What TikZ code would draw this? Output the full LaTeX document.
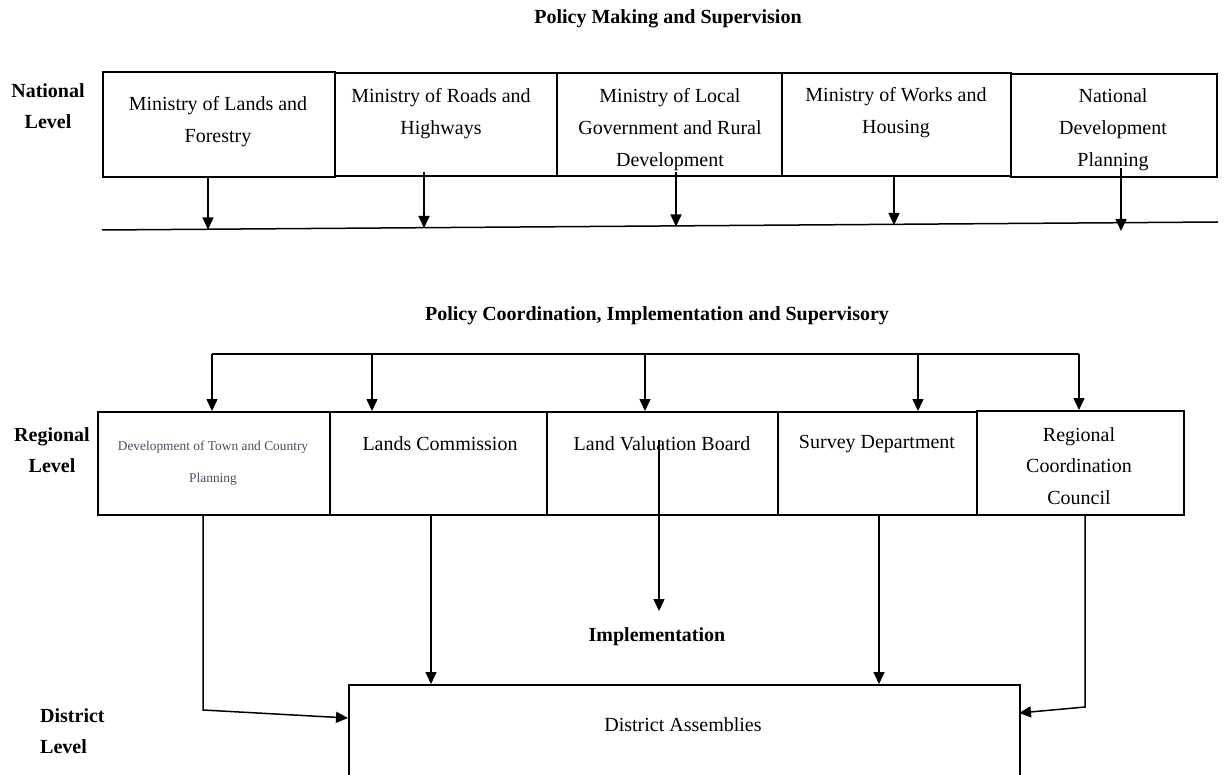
\documentclass[tikz,border=0pt]{standalone}
\usepackage{fontspec}
\setmainfont{Liberation Serif}
\usetikzlibrary{arrows.meta}
\definecolor{smallink}{rgb}{0.33,0.28,0.38}
\begin{document}
\begin{tikzpicture}[x=1pt,y=-1pt,
  box/.style={draw, line width=1.8pt, inner sep=0pt, anchor=north west},
  boxtext/.style={align=center, inner sep=0pt, font=\fontsize{20}{32}\selectfont},
  smalltext/.style={align=center, inner sep=0pt, text=smallink, font=\fontsize{13.4}{32}\selectfont},
  head/.style={inner sep=0pt, font=\fontsize{20}{31}\selectfont\bfseries},
  conn/.style={line width=1.5pt},
  arr/.style={line width=1.5pt, -{Triangle[length=12pt,width=11pt]}}
]
\useasboundingbox (0,0) rectangle (1226,775);

% titles
\node[head] (t1) at (668,19) {Policy Making and Supervision};
\node[head] (t2) at (657,316) {Policy Coordination, Implementation and Supervisory};
\node[head, align=center] (nat) at (48,106) {National\\Level};
\node[head, align=center] (reg) at (52,450) {Regional\\Level};
\node[head, align=left, anchor=west] (dis) at (40,731) {District\\Level};

% national boxes
\node[box, minimum width=232pt, minimum height=105pt] (n1) at (102,71) {};
\node[box, minimum width=222pt, minimum height=103pt] (n2) at (334,72) {};
\node[box, minimum width=225pt, minimum height=103pt] (n3) at (556,72) {};
\node[box, minimum width=229pt, minimum height=103pt] (n4) at (781,72) {};
\node[box, minimum width=206pt, minimum height=103pt] (n5) at (1010,73) {};

\node[boxtext] (n1t) at (218,122) {Ministry of Lands and\\Forestry};
\node[boxtext] (n2t) at (441,114) {Ministry of Roads and\\Highways};
\node[boxtext] (n3t) at (670,130) {Ministry of Local\\Government and Rural\\Development};
\node[boxtext] (n4t) at (896,113) {Ministry of Works and\\Housing};
\node[boxtext] (n5t) at (1113,130) {National\\Development\\Planning};

% national collecting line
\coordinate (la) at (102,230);
\coordinate (lb) at (1218,222);
\draw[conn] (la) -- (lb);
\coordinate (a1) at (208,229.5);
\coordinate (a2) at (424,228);
\coordinate (a3) at (676,226.5);
\coordinate (a4) at (894,225);
\coordinate (a5) at (1121,231);
\draw[arr] (n1.south -| a1) -- (a1);
\draw[arr] ([yshift=5pt]n2.south -| a2) -- (a2);
\draw[arr] ([yshift=5pt]n3.south -| a3) -- (a3);
\draw[arr] (n4.south -| a4) -- (a4);
\draw[arr] ([yshift=10pt]n5.south -| a5) -- (a5);

% regional boxes
\node[box, minimum width=232pt, minimum height=103pt] (r1) at (97,411) {};
\node[box, minimum width=217pt, minimum height=103pt] (r2) at (329,411) {};
\node[box, minimum width=231pt, minimum height=103pt] (r3) at (546,411) {};
\node[box, minimum width=199pt, minimum height=103pt] (r4) at (777,411) {};
\node[box, minimum width=207pt, minimum height=104pt] (r5) at (976,410) {};

\node[smalltext] (r1t) at (213,463) {Development of Town and Country\\Planning};
\node[boxtext] (r2t) at (440,444) {Lands Commission};
\node[boxtext] (r3t) at (662,444) {Land Valuation Board};
\node[boxtext] (r4t) at (877,444) {Survey Department};
\node[boxtext, font=\fontsize{20}{31.5}\selectfont] (r5t) at (1079,466) {Regional\\Coordination\\Council};

% distribution line
\coordinate (d1) at (212,354);
\coordinate (d2) at (372,354);
\coordinate (d3) at (645,354);
\coordinate (d4) at (918,354);
\coordinate (d5) at (1079,354);
\draw[conn] (d1) -- (d5);
\draw[arr] (d1) -- (d1 |- r1.north);
\draw[arr] (d2) -- (d2 |- r2.north);
\draw[arr] (d3) -- (d3 |- r3.north);
\draw[arr] (d4) -- (d4 |- r4.north);
\draw[arr] (d5) -- (d5 |- r5.north);

% district
\node[box, minimum width=671pt, minimum height=100pt] (dist) at (348,684) {};
\node[boxtext] (distt) at (683,725) {District Assemblies};
\node[head] (impl) at (657,637) {Implementation};

% regional to district
\coordinate (k1) at (203,710);
\coordinate (e1) at (348,718);
\draw[arr] (r1.south -| k1) -- (k1) -- (e1);
\coordinate (c2) at (431,0);
\draw[arr] (r2.south -| c2) -- (c2 |- dist.north);
\coordinate (v1) at (659,440);
\coordinate (v2) at (659,611);
\draw[arr] (v1) -- (v2);
\coordinate (c4) at (879,0);
\draw[arr] (r4.south -| c4) -- (c4 |- dist.north);
\coordinate (k5) at (1085,707);
\coordinate (e5) at (1019,713);
\draw[arr] (r5.south -| k5) -- (k5) -- (e5);
\end{tikzpicture}
\end{document}
